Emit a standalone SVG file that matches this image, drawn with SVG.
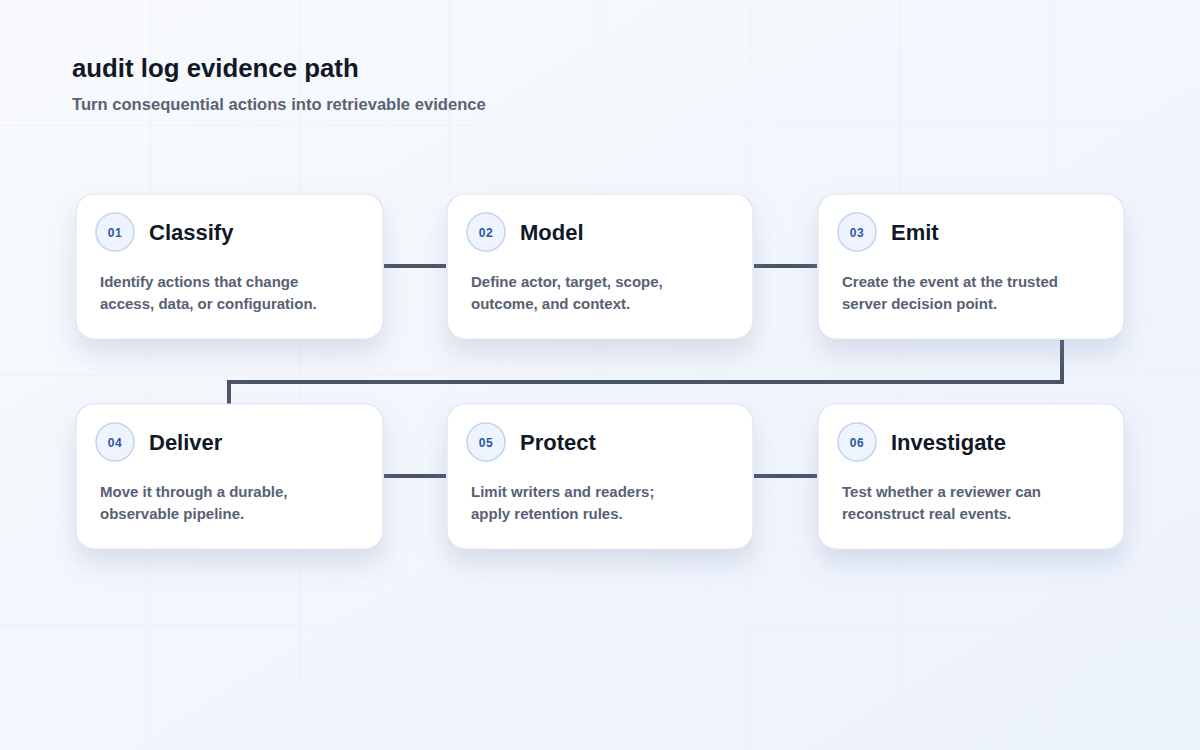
<svg xmlns="http://www.w3.org/2000/svg" width="1200" height="750" viewBox="0 0 1200 750">
<defs>
<linearGradient id="bg" x1="0" y1="0" x2="1" y2="1">
<stop offset="0" stop-color="#f8fafd"/>
<stop offset="1" stop-color="#ecf2fc"/>
</linearGradient>
<filter id="sh" x="-25%" y="-25%" width="150%" height="180%">
<feDropShadow dx="0" dy="14" stdDeviation="13" flood-color="#7b8db5" flood-opacity="0.24"/>
</filter>
<style>
.grid{stroke:#edf1f7;stroke-width:1}
.card{fill:#ffffff;stroke:#dfe5ef;stroke-width:1.2;filter:url(#sh)}
.badge{fill:#eef4fe;stroke:#c3d3ec;stroke-width:1.5}
.num{font-family:"Liberation Sans",Arial,sans-serif;font-size:12px;font-weight:700;fill:#2f56a0;text-anchor:middle;letter-spacing:0.5px}
.title{font-family:"Liberation Sans",Arial,sans-serif;font-size:22px;font-weight:700;fill:#111827}
.desc{font-family:"Liberation Sans",Arial,sans-serif;font-size:15px;font-weight:700;fill:#586173}
.conn{fill:none;stroke:#4a5568;stroke-width:4;stroke-linecap:butt;stroke-linejoin:miter}
</style>
</defs>
<rect width="1200" height="750" fill="url(#bg)"/>
<g id="grid">
<line class="grid" x1="150" y1="0" x2="150" y2="750"/>
<line class="grid" x1="300" y1="0" x2="300" y2="750"/>
<line class="grid" x1="450" y1="0" x2="450" y2="750"/>
<line class="grid" x1="600" y1="0" x2="600" y2="750"/>
<line class="grid" x1="750" y1="0" x2="750" y2="750"/>
<line class="grid" x1="900" y1="0" x2="900" y2="750"/>
<line class="grid" x1="1050" y1="0" x2="1050" y2="750"/>
<line class="grid" x1="0" y1="125" x2="1200" y2="125"/>
<line class="grid" x1="0" y1="375" x2="1200" y2="375"/>
<line class="grid" x1="0" y1="625" x2="1200" y2="625"/>
</g>
<g id="header">
<text x="72" y="77" font-family="Liberation Sans, Arial, sans-serif" font-size="25.8" font-weight="700" fill="#111827">audit log evidence path</text>
<text x="72" y="110" font-family="Liberation Sans, Arial, sans-serif" font-size="16.6" font-weight="700" fill="#5a6374">Turn consequential actions into retrievable evidence</text>
</g>
<g id="connectors">
<line class="conn" x1="384" y1="266" x2="446" y2="266"/>
<line class="conn" x1="754" y1="266" x2="817" y2="266"/>
<polyline class="conn" points="1062,340 1062,382 229,382 229,404"/>
<line class="conn" x1="384" y1="476" x2="446" y2="476"/>
<line class="conn" x1="754" y1="476" x2="817" y2="476"/>
</g>
<g id="node-01">
<rect class="card" x="76" y="194" width="307" height="145" rx="18"/>
<circle class="badge" cx="115" cy="232" r="19"/>
<text class="num" x="115" y="237">01</text>
<text class="title" x="149" y="240">Classify</text>
<text class="desc" x="100" y="287">Identify actions that change</text>
<text class="desc" x="100" y="309">access, data, or configuration.</text>
</g>
<g id="node-02">
<rect class="card" x="447" y="194" width="306" height="145" rx="18"/>
<circle class="badge" cx="486" cy="232" r="19"/>
<text class="num" x="486" y="237">02</text>
<text class="title" x="520" y="240">Model</text>
<text class="desc" x="471" y="287">Define actor, target, scope,</text>
<text class="desc" x="471" y="309">outcome, and context.</text>
</g>
<g id="node-03">
<rect class="card" x="818" y="194" width="306" height="145" rx="18"/>
<circle class="badge" cx="857" cy="232" r="19"/>
<text class="num" x="857" y="237">03</text>
<text class="title" x="891" y="240">Emit</text>
<text class="desc" x="842" y="287">Create the event at the trusted</text>
<text class="desc" x="842" y="309">server decision point.</text>
</g>
<g id="node-04">
<rect class="card" x="76" y="404" width="307" height="145" rx="18"/>
<circle class="badge" cx="115" cy="442" r="19"/>
<text class="num" x="115" y="447">04</text>
<text class="title" x="149" y="450">Deliver</text>
<text class="desc" x="100" y="497">Move it through a durable,</text>
<text class="desc" x="100" y="519">observable pipeline.</text>
</g>
<g id="node-05">
<rect class="card" x="447" y="404" width="306" height="145" rx="18"/>
<circle class="badge" cx="486" cy="442" r="19"/>
<text class="num" x="486" y="447">05</text>
<text class="title" x="520" y="450">Protect</text>
<text class="desc" x="471" y="497">Limit writers and readers;</text>
<text class="desc" x="471" y="519">apply retention rules.</text>
</g>
<g id="node-06">
<rect class="card" x="818" y="404" width="306" height="145" rx="18"/>
<circle class="badge" cx="857" cy="442" r="19"/>
<text class="num" x="857" y="447">06</text>
<text class="title" x="891" y="450">Investigate</text>
<text class="desc" x="842" y="497">Test whether a reviewer can</text>
<text class="desc" x="842" y="519">reconstruct real events.</text>
</g>
</svg>
